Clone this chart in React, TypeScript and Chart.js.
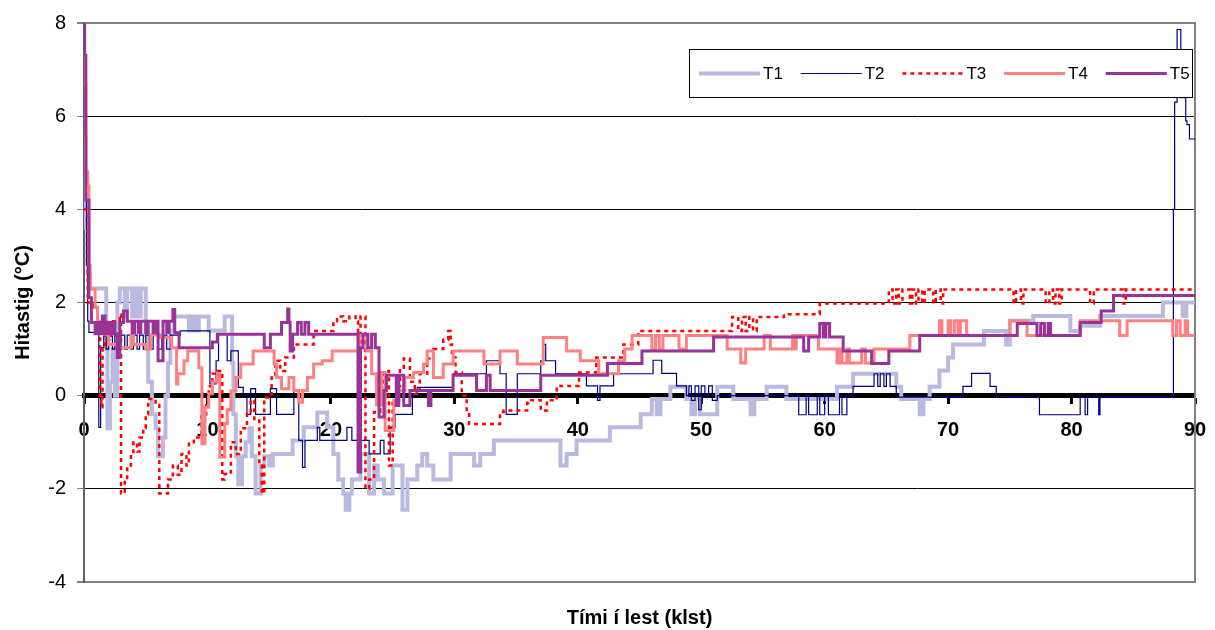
import { useEffect, useRef } from "react";
import { Chart, registerables } from "chart.js";

Chart.register(...registerables);

const FONT = '"Liberation Sans", Arial, Helvetica, sans-serif';

// Axis ranges and labels
const X_MIN = 0;
const X_MAX = 90;
const X_STEP = 10;
const Y_MIN = -4;
const Y_MAX = 8;
const Y_STEP = 2;
const X_TITLE = "Tími í lest (klst)";
const Y_TITLE = "Hitastig (°C)";
const SERIES_NAMES = ["T1", "T2", "T3", "T4", "T5"];

// Logger readings: [hours in storage, temperature °C]; each value holds until the next time
const T1: [number, number][] = [
  [0, 5.5], [0.1, 3.6], [0.3, 2.6], [0.5, 2.3], [1.8, 1.0], [1.9, -0.7], [2.1, 0.3], [2.3, 1.0],
  [2.5, 0.0], [2.7, 2.0], [2.9, 2.3], [3.3, 1.7], [3.5, 2.3], [3.9, 1.7], [4.1, 2.3], [4.4, 1.7],
  [4.6, 2.3], [5.0, 1.3], [5.2, 0.3], [5.5, -0.4], [5.8, -0.7], [6.0, -1.3], [6.4, -0.9], [6.6, 0.0],
  [6.8, 0.7], [7.0, 1.4], [7.3, 1.7], [8.5, 1.4], [8.8, 1.7], [9.0, 1.4], [9.3, 1.7], [10.1, 1.4],
  [11.4, 1.7], [12.0, 0.7], [12.1, -0.4], [12.3, -1.3], [12.5, -1.9], [12.8, -1.3], [13.1, -1.0],
  [13.4, -0.7], [13.6, -1.3], [13.9, -2.1], [14.3, -1.5], [14.6, -1.3], [15.0, -1.5], [15.3, -1.25],
  [16.9, -0.96], [17.8, -0.68], [18.9, -0.36], [19.7, -0.68], [20.2, -1.25], [20.6, -1.8], [21.0, -2.1],
  [21.2, -2.45], [21.5, -2.1], [21.7, -1.8], [22.4, -1.25], [23.1, -2.1], [23.5, -1.5], [23.8, -1.8],
  [24.3, -2.1], [25.0, -1.5], [25.8, -2.45], [26.2, -1.8], [27.0, -1.5], [27.4, -1.25], [27.8, -1.5],
  [28.3, -1.8], [29.7, -1.25], [31.6, -1.5], [32.1, -1.25], [33.2, -0.96], [38.6, -1.5], [39.1, -1.25],
  [39.9, -0.96], [42.6, -0.68], [45.1, -0.4], [46.0, -0.07], [46.4, -0.4], [46.7, -0.07], [47.5, 0.19],
  [48.8, -0.07], [49.2, -0.4], [49.5, -0.07], [49.9, -0.4], [51.3, 0.19], [52.6, -0.07], [54.0, -0.4],
  [54.3, -0.07], [55.3, 0.19], [56.9, -0.07], [61.0, 0.19], [62.3, 0.47], [65.8, 0.19], [66.2, -0.07],
  [67.7, -0.4], [68.0, -0.07], [68.5, 0.19], [69.3, 0.54], [70.0, 0.82], [70.4, 1.1], [72.9, 1.39],
  [74.7, 1.1], [75.0, 1.61], [76.9, 1.71], [79.9, 1.39], [80.7, 1.5], [82.3, 1.71], [87.4, 2.0],
  [89.0, 1.71], [89.3, 2.0], [90, 2.0],
];

const T2: [number, number][] = [
  [0, 6.7], [0.1, 5.6], [0.2, 2.8], [0.3, 1.6], [0.4, 1.36], [1.2, -0.68], [1.35, 1.03], [1.6, 1.28],
  [1.8, 1.0], [2.0, 1.28], [2.3, 1.0], [2.5, 1.3], [2.8, 1.0], [3.0, 1.3], [3.3, 1.0], [3.5, 1.3],
  [3.8, 1.0], [4.0, 1.3], [4.3, 1.0], [4.5, 1.3], [4.8, 1.0], [5.0, 1.3], [5.3, 1.0], [5.6, 1.3],
  [6.0, 1.0], [6.3, 1.3], [6.7, 1.0], [7.0, 1.3], [7.8, 1.39], [10.2, 0.25], [10.7, 0.75], [10.9, 1.32],
  [11.6, 0.75], [11.9, 0.96], [12.5, 0.18], [12.9, 0.0], [13.2, -0.4], [13.5, 0.15], [13.9, -0.4],
  [15.1, 0.15], [15.6, -0.4], [17.0, 0.13], [17.4, -0.96], [17.7, -1.54], [17.9, -0.96], [18.9, -0.68],
  [19.1, -0.96], [21.3, -0.68], [21.7, -0.96], [23.1, -1.25], [24.0, -0.96], [24.3, -1.25], [24.8, -0.68],
  [25.2, -0.4], [26.6, 0.0], [27.0, 0.18], [29.9, 0.47], [32.6, 0.75], [33.7, 0.47], [34.2, -0.4],
  [35.1, 0.47], [37.0, 0.75], [37.2, 1.1], [37.4, 0.75], [38.2, 0.47], [40.7, 0.21], [41.6, -0.1],
  [41.8, 0.21], [42.9, 0.47], [46.1, 0.76], [46.8, 0.48], [48.0, 0.21], [48.8, 0.0], [49.0, 0.21],
  [49.2, -0.1], [49.5, 0.21], [49.8, -0.3], [50.0, 0.21], [50.3, 0.0], [50.6, 0.21], [50.9, -0.1],
  [51.3, 0.0], [57.9, -0.41], [58.5, 0.0], [58.7, -0.41], [59.4, 0.0], [59.6, -0.41], [60.0, 0.0],
  [60.3, -0.41], [61.2, 0.0], [61.4, -0.41], [61.8, 0.0], [62.3, 0.2], [64.0, 0.47], [64.3, 0.2],
  [64.5, 0.47], [64.8, 0.2], [65.0, 0.47], [65.3, 0.2], [65.8, -0.03], [71.2, 0.2], [71.9, 0.48],
  [73.4, 0.2], [73.9, -0.03], [77.4, -0.41], [80.7, -0.03], [81.1, -0.41], [81.3, -0.03], [82.2, -0.41],
  [82.3, -0.03], [88.2, 0.0], [88.25, 4.0], [88.35, 6.3], [88.55, 7.86], [88.85, 6.4], [89.25, 5.9],
  [89.35, 5.82], [89.55, 5.51], [90, 5.51],
];

const T3: [number, number][] = [
  [0, 4.0], [0.3, 2.0], [0.8, 1.9], [1.1, 1.6], [1.3, 0.0], [1.4, -0.25], [1.5, 1.0], [1.7, 1.2],
  [2.2, 1.6], [2.9, 1.75], [3.0, -2.1], [3.3, -1.8], [3.5, -1.5], [3.8, -1.3], [4.0, -1.0], [4.3, -1.2],
  [4.5, -0.9], [4.8, -0.7], [5.0, -0.4], [5.2, -0.07], [5.8, -0.2], [6.1, -2.1], [6.8, -1.8], [7.2, -1.5],
  [7.6, -1.7], [7.9, -1.25], [8.3, -1.5], [8.5, -1.0], [8.9, -0.9], [9.5, -0.4], [9.9, -0.1], [10.1, 0.2],
  [10.4, 0.47], [10.8, 0.53], [11.2, -1.8], [11.4, -1.68], [11.9, -1.0], [12.3, -1.25], [12.7, -0.7],
  [13.2, -0.4], [13.5, -0.1], [13.8, -0.5], [14.2, -1.5], [14.4, -2.1], [14.6, -0.04], [15.2, 0.39],
  [15.5, 0.75], [15.9, 0.53], [16.3, 0.82], [17.0, 1.1], [18.6, 1.39], [20.2, 1.6], [20.5, 1.7],
  [21.0, 1.6], [21.5, 1.7], [22.0, 1.6], [22.2, -0.5], [22.4, 1.7], [22.8, -2.0], [23.1, -1.8],
  [23.5, -0.35], [24.0, 0.18], [24.3, 0.53], [24.7, -1.5], [25.0, -0.1], [25.4, 0.2], [25.6, 0.6],
  [25.9, 0.8], [26.4, 0.3], [26.8, 0.04], [27.2, 0.47], [27.8, 0.8], [28.3, 1.0], [29.1, 1.2],
  [29.5, 1.39], [29.7, 1.1], [29.8, 0.82], [30.1, 0.5], [30.6, 0.0], [31.0, -0.35], [31.2, -0.61],
  [33.7, -0.35], [34.0, -0.32], [35.9, -0.15], [36.0, -0.1], [37.0, -0.32], [37.5, -0.1], [38.3, 0.21],
  [40.1, 0.5], [41.5, 0.82], [43.7, 1.1], [44.9, 1.39], [52.5, 1.69], [53.0, 1.39], [53.3, 1.69],
  [53.6, 1.39], [53.9, 1.69], [54.2, 1.39], [54.5, 1.69], [56.7, 1.75], [59.6, 1.98], [65.2, 2.28],
  [65.5, 1.98], [65.8, 2.28], [66.0, 1.98], [66.3, 2.28], [66.9, 1.98], [67.1, 2.28], [67.4, 1.98],
  [67.6, 2.28], [67.9, 1.98], [68.1, 2.28], [68.8, 1.98], [69.0, 2.28], [69.4, 1.98], [69.6, 2.28],
  [75.3, 1.98], [75.5, 2.28], [75.9, 1.98], [76.1, 2.28], [77.9, 1.98], [78.2, 2.28], [78.5, 1.98],
  [78.7, 2.28], [79.0, 1.98], [79.2, 2.28], [81.5, 1.98], [81.8, 2.28], [84.2, 1.98], [84.4, 2.28],
  [90, 2.28],
];

const T4: [number, number][] = [
  [0, 7.36], [0.05, 6.7], [0.15, 4.8], [0.3, 4.5], [0.4, 2.8], [0.5, 2.29], [0.9, 1.9], [1.1, 1.6],
  [1.8, 1.3], [2.0, 1.1], [2.7, 1.03], [3.8, 1.3], [4.0, 1.1], [5.0, 1.0], [5.4, 1.3], [6.2, 1.25],
  [7.1, 1.03], [7.5, 0.25], [7.6, 0.47], [8.1, 0.75], [8.4, 0.96], [9.3, 0.6], [9.55, -1.03], [9.8, -0.25],
  [10.1, 0.04], [10.4, 0.3], [10.8, 0.47], [11.0, -1.32], [11.4, -0.6], [11.6, -0.3], [11.9, 0.1],
  [12.3, 0.39], [12.7, 0.68], [13.7, 0.96], [15.4, 0.68], [15.6, 0.39], [16.0, 0.15], [16.6, 0.39],
  [17.0, 0.11], [17.4, -0.14], [17.7, 0.11], [18.1, 0.39], [18.6, 0.68], [19.3, 0.75], [20.1, 0.96],
  [22.3, 1.29], [22.9, 0.96], [23.3, 0.47], [23.7, -0.2], [24.1, 0.5], [24.4, -0.75], [25.1, -0.1],
  [25.5, 0.11], [26.0, 0.39], [26.7, 0.5], [27.5, 0.68], [27.8, 0.96], [28.3, 0.39], [29.1, 0.68],
  [29.9, 0.96], [32.4, 0.68], [33.7, 0.96], [35.1, 0.68], [37.2, 1.25], [39.1, 0.96], [40.2, 0.75],
  [41.7, 0.47], [43.3, 0.75], [43.8, 1.0], [44.4, 1.29], [46.0, 1.0], [46.3, 1.29], [46.6, 1.0],
  [46.9, 1.29], [48.2, 1.0], [48.8, 1.29], [52.1, 1.0], [53.2, 0.7], [53.6, 1.0], [55.1, 1.29],
  [55.6, 1.0], [57.4, 1.29], [57.6, 1.0], [57.7, 1.29], [59.5, 1.0], [61.0, 0.7], [61.2, 1.0],
  [61.4, 0.7], [61.8, 1.0], [62.0, 0.7], [63.0, 1.0], [63.3, 0.7], [64.0, 1.0], [66.9, 1.29],
  [69.3, 1.61], [69.5, 1.29], [70.0, 1.61], [70.2, 1.29], [70.5, 1.61], [70.8, 1.29], [71.0, 1.61],
  [71.5, 1.29], [75.0, 1.61], [76.4, 1.29], [80.7, 1.61], [83.9, 1.29], [84.5, 1.61], [88.2, 1.29],
  [88.5, 1.61], [88.8, 1.29], [89.2, 1.61], [89.4, 1.29], [90, 1.29],
];

const T5: [number, number][] = [
  [0, 8.0], [0.05, 7.3], [0.15, 4.2], [0.4, 2.1], [0.6, 1.57], [0.9, 1.33], [1.1, 1.57], [1.3, 1.33],
  [1.5, 1.71], [1.7, 1.33], [1.9, 1.57], [2.1, 1.33], [2.3, 1.57], [2.5, 1.33], [2.7, 0.82], [2.9, 1.57],
  [3.2, 1.82], [3.5, 1.6], [3.9, 1.35], [4.1, 1.6], [4.4, 1.35], [4.6, 1.6], [5.0, 1.35], [5.2, 1.6],
  [5.6, 1.35], [5.8, 1.6], [6.0, 0.75], [6.4, 1.6], [6.7, 1.35], [6.9, 1.6], [7.2, 1.85], [7.35, 1.35],
  [7.7, 1.03], [10.4, 1.15], [10.8, 1.32], [14.6, 1.03], [15.1, 1.32], [16.0, 1.57], [16.5, 1.86],
  [16.6, 1.57], [16.7, 0.96], [16.9, 1.32], [17.3, 1.57], [17.6, 1.32], [17.9, 1.57], [18.2, 1.32],
  [22.2, -1.64], [22.4, 1.03], [22.6, 1.32], [23.0, 1.03], [23.3, 1.32], [23.6, 1.03], [23.9, -0.46],
  [24.3, 0.11], [24.5, 0.44], [25.3, -0.21], [25.5, 0.44], [25.9, -0.21], [26.4, 0.11], [27.9, -0.21],
  [28.1, 0.11], [29.9, 0.44], [31.8, 0.11], [32.6, 0.44], [32.9, 0.11], [37.0, 0.44], [42.4, 0.69],
  [45.2, 0.96], [51.0, 1.26], [58.3, 0.96], [58.7, 1.26], [59.6, 1.55], [59.9, 1.26], [60.1, 1.55],
  [60.4, 1.26], [61.5, 0.96], [63.8, 0.69], [65.2, 0.96], [67.7, 1.29], [75.6, 1.55], [77.2, 1.29],
  [77.5, 1.55], [77.8, 1.29], [78.1, 1.55], [78.3, 1.29], [80.7, 1.57], [82.4, 1.82], [83.4, 2.15],
  [90, 2.15],
];

const SERIES_DATA = [T1, T2, T3, T4, T5];
const SERIES_STYLE = [
  { color: "#babae0", width: 4, dash: [] as number[] },
  { color: "#000080", width: 1.2, dash: [] as number[] },
  { color: "#ff0000", width: 2.5, dash: [4, 4] },
  { color: "#ff8080", width: 3, dash: [] as number[] },
  { color: "#993399", width: 3, dash: [] as number[] },
];

// Right edge of the plot frame (top/bottom come from the grid, left from the y axis)
const frameEdge = {
  id: "frameEdge",
  beforeDatasetsDraw(chart: any) {
    const { ctx, chartArea: a } = chart;
    ctx.save();
    ctx.strokeStyle = "#808080";
    ctx.lineWidth = 2;
    ctx.beginPath();
    ctx.moveTo(a.right, a.top - 1);
    ctx.lineTo(a.right, a.bottom + 1);
    ctx.stroke();
    ctx.restore();
  },
};

// Boxed horizontal legend in the upper right and the x axis title under the plot
const legendAndTitle = {
  id: "legendAndTitle",
  afterDraw(chart: any) {
    const { ctx, chartArea: a } = chart;
    ctx.save();

    const boxW = 504;
    const boxH = 49;
    const boxX = a.right - 2 - boxW;
    const boxY = a.top + 26;
    ctx.fillStyle = "#ffffff";
    ctx.fillRect(boxX, boxY, boxW, boxH);
    ctx.strokeStyle = "#000000";
    ctx.lineWidth = 1;
    ctx.strokeRect(boxX + 0.5, boxY + 0.5, boxW - 1, boxH - 1);

    const midY = boxY + boxH / 2;
    ctx.font = `17px ${FONT}`;
    ctx.textBaseline = "middle";
    ctx.textAlign = "left";
    SERIES_NAMES.forEach((name, i) => {
      const st = SERIES_STYLE[i];
      const x0 = boxX + 10 + i * 101.7;
      ctx.save();
      ctx.strokeStyle = st.color;
      ctx.lineWidth = Math.min(st.width, 4);
      ctx.setLineDash(st.dash);
      ctx.beginPath();
      ctx.moveTo(x0, midY);
      ctx.lineTo(x0 + 61, midY);
      ctx.stroke();
      ctx.restore();
      ctx.fillStyle = "#000000";
      ctx.fillText(name, x0 + 64, midY + 1);
    });

    ctx.font = `bold 20px ${FONT}`;
    ctx.textAlign = "center";
    ctx.textBaseline = "middle";
    ctx.fillStyle = "#000000";
    ctx.fillText(X_TITLE, (a.left + a.right) / 2, 618);
    ctx.restore();
  },
};

export default function App() {
  const canvasRef = useRef<HTMLCanvasElement | null>(null);

  useEffect(() => {
    const canvas = canvasRef.current;
    if (!canvas) return;

    const datasets = SERIES_DATA.map((rows, i) => ({
      label: SERIES_NAMES[i],
      data: rows.map(([x, y]) => ({ x, y })),
      borderColor: SERIES_STYLE[i].color,
      backgroundColor: SERIES_STYLE[i].color,
      borderWidth: SERIES_STYLE[i].width,
      borderDash: SERIES_STYLE[i].dash,
      pointRadius: 0,
      pointHoverRadius: 0,
      fill: false,
      tension: 0,
      // horizontal at the previous reading, then vertical to the new one
      stepped: "before" as const,
      order: SERIES_NAMES.length - i,
    }));

    const chart = new Chart(canvas, {
      type: "line",
      data: { datasets },
      plugins: [frameEdge, legendAndTitle],
      options: {
        animation: false,
        responsive: false,
        devicePixelRatio: 1,
        parsing: false,
        layout: { padding: { left: 0, right: 20, top: 22, bottom: 48 } },
        plugins: {
          legend: { display: false },
          tooltip: { enabled: false },
          title: { display: false },
        },
        font: { family: FONT },
        scales: {
          x: {
            type: "linear",
            position: { y: 0 },
            min: X_MIN,
            max: X_MAX,
            afterFit: (scale: any) => {
              scale.paddingLeft = 0;
              scale.paddingRight = 0;
            },
            ticks: {
              stepSize: X_STEP,
              color: "#000000",
              font: { family: FONT, size: 20, weight: "bold" },
              padding: 17,
              maxRotation: 0,
            },
            grid: {
              drawOnChartArea: false,
              drawTicks: true,
              tickLength: 6,
              tickWidth: 3,
              tickColor: "#000000",
            },
            border: { display: true, color: "#000000", width: 5 },
          },
          y: {
            type: "linear",
            position: "left",
            min: Y_MIN,
            max: Y_MAX,
            afterFit: (scale: any) => {
              scale.width = 84;
            },
            ticks: {
              stepSize: Y_STEP,
              color: "#000000",
              font: { family: FONT, size: 20 },
              padding: 11,
            },
            grid: {
              color: (c: any) =>
                c.tick && (c.tick.value === Y_MAX || c.tick.value === Y_MIN) ? "#808080" : "#000000",
              lineWidth: (c: any) =>
                c.tick && (c.tick.value === Y_MAX || c.tick.value === Y_MIN) ? 2 : 1,
              drawTicks: true,
              tickLength: 7,
              tickColor: "#808080",
            },
            border: { display: true, color: "#606060", width: 2 },
            title: {
              display: true,
              text: Y_TITLE,
              color: "#000000",
              font: { family: FONT, size: 20, weight: "bold" },
              padding: { top: 11, bottom: 0 },
            },
          },
        },
      } as any,
    });

    return () => chart.destroy();
  }, []);

  return (
    <div style={{ position: "fixed", left: 0, top: 0, width: 1215, height: 630, background: "#ffffff" }}>
      <canvas ref={canvasRef} width={1215} height={630} style={{ width: 1215, height: 630 }} />
    </div>
  );
}
